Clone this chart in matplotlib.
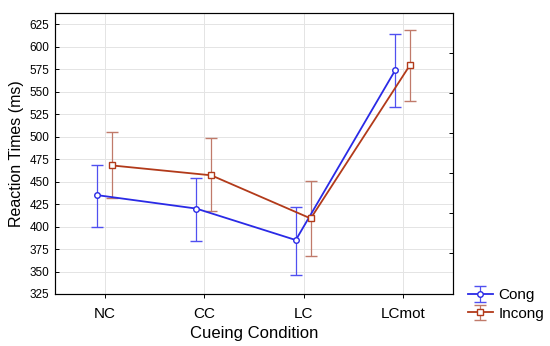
import matplotlib
matplotlib.use("Agg")
import matplotlib.pyplot as plt
import numpy as np

plt.rcParams['font.family'] = ['Liberation Sans', 'DejaVu Sans']

categories = ["NC", "CC", "LC", "LCmot"]
cong_mean = [435, 420, 385, 574]
cong_lo = [400, 384, 346, 533]
cong_hi = [469, 454, 422, 614]
incong_mean = [468, 457, 409, 580]
incong_lo = [432, 417, 367, 540]
incong_hi = [505, 498, 451, 619]
yticks = [325, 350, 375, 400, 425, 450, 475, 500, 525, 550, 575, 600, 625]

fig = plt.figure(figsize=(5.5, 3.46), dpi=100)
ax = fig.add_axes([55/550, 1-294/346, (453-55)/550, (294-13)/346])

x = np.arange(len(categories))
cm = np.array(cong_mean); im = np.array(incong_mean)
cerr = [cm - np.array(cong_lo), np.array(cong_hi) - cm]
ierr = [im - np.array(incong_lo), np.array(incong_hi) - im]

blue = '#2a2ae6'
red = '#b23a1a'
ax.errorbar(x - 0.08, cm, yerr=cerr, color=blue, ecolor='#5050f0', lw=1.3, elinewidth=0.9,
            capsize=4, capthick=0.9, marker='o', ms=4, mfc='white', mec=blue, mew=1.0,
            label='Cong', zorder=3)
ax.errorbar(x + 0.07, im, yerr=ierr, color=red, ecolor='#c07a6a', lw=1.3, elinewidth=0.9,
            capsize=4, capthick=0.9, marker='s', ms=4, mfc='white', mec=red, mew=1.0,
            label='Incong', zorder=3)

ax.set_xlim(-0.5, 3.5)
ax.set_ylim(325, 637.5)
ax.set_yticks(yticks)
ax.set_yticklabels([str(t) for t in yticks], fontsize=8.5)
ax.set_xticks(x)
ax.set_xticklabels(categories, fontsize=11)
ax.grid(True, color='#e4e4e4', lw=0.7)
ax.set_axisbelow(True)
ax.tick_params(axis='y', direction='in', length=3, width=0.7, pad=4)
ax.tick_params(axis='x', direction='out', length=3, width=0.7, pad=6)
for s in ax.spines.values():
    s.set_linewidth(0.8)
    s.set_color('#333333')

ax2 = ax.twinx()
ax2.set_ylim(ax.get_ylim())
right_px = [53, 93, 133, 173, 213, 253]
ax2.set_yticks([325 + (294 - p) / 22.5 * 25 for p in right_px])
ax2.set_yticklabels([])
ax2.tick_params(axis='y', direction='in', length=3, width=0.7)

ax.set_ylabel('Reaction Times (ms)', fontsize=11.5, labelpad=4)
ax.set_xlabel('Cueing Condition', fontsize=12, labelpad=4)

leg = fig.legend(loc='lower left', bbox_to_anchor=(459/550, 1-330/346), frameon=False,
                 fontsize=11, handlelength=1.6, handletextpad=0.4, borderpad=0.1,
                 labelspacing=0.3)

fig.savefig('out.png', dpi=100)
